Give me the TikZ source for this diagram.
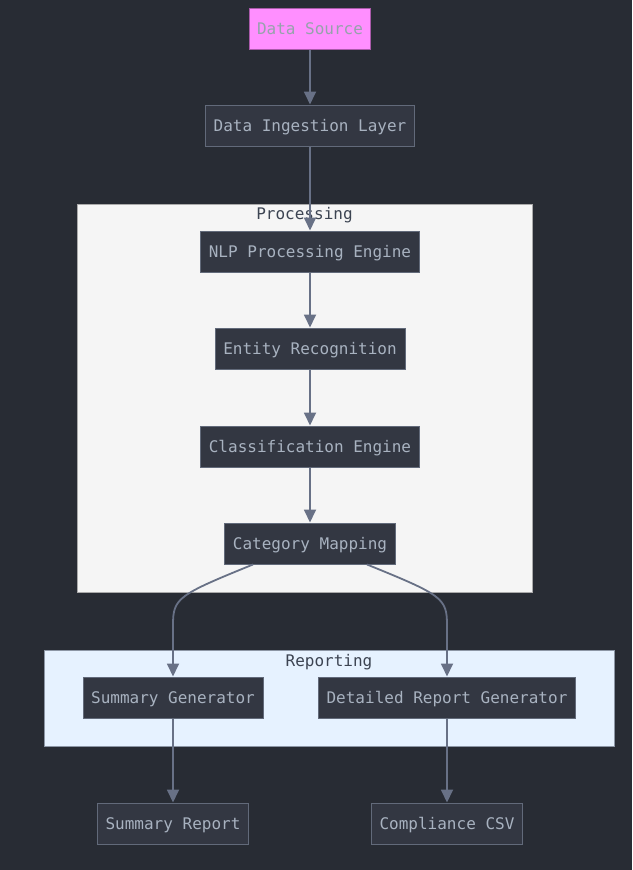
\documentclass[tikz,border=0pt]{standalone}
\usepackage{fontspec}
\setmonofont{DejaVu Sans Mono}
\usetikzlibrary{arrows.meta}
\definecolor{bgc}{RGB}{40,44,52}
\definecolor{nodefill}{RGB}{51,55,66}
\definecolor{nodeline}{RGB}{98,106,122}
\definecolor{edgec}{RGB}{104,113,134}
\definecolor{txt}{RGB}{168,178,192}
\definecolor{procfill}{RGB}{245,245,245}
\definecolor{procline}{RGB}{170,170,170}
\definecolor{repfill}{RGB}{230,242,255}
\definecolor{repline}{RGB}{140,150,165}
\definecolor{clabel}{RGB}{60,68,82}
\definecolor{srcfill}{RGB}{255,143,255}
\definecolor{srcline}{RGB}{170,90,170}
\definecolor{srctxt}{RGB}{150,162,172}
\tikzset{
  box/.style={draw=nodeline, fill=nodefill, line width=1pt, text=txt,
    font=\ttfamily\fontsize{16}{19}\selectfont, minimum height=41pt, inner xsep=8pt, inner ysep=0pt,
    text height=14.5pt, text depth=3pt},
  srcbox/.style={box, fill=srcfill, draw=srcline, text=srctxt},
  cluster/.style={line width=1pt},
  clab/.style={text=clabel, font=\ttfamily\fontsize{16}{19}\selectfont, text height=14.5pt, text depth=3pt},
  link/.style={draw=edgec, line width=1.8pt, -{Triangle[length=13pt,width=12pt]}}
}
\begin{document}
\begin{tikzpicture}[x=1pt,y=-1pt]
\useasboundingbox[fill=bgc] (0,0) rectangle (632,870);
% clusters
\draw[cluster, fill=procfill, draw=procline] (77,204) rectangle (532,592);
\node[clab] (proclab) at (304.5,214) {Processing};
\draw[cluster, fill=repfill, draw=repline] (44,650) rectangle (614,746);
\node[clab] (replab) at (329,661) {Reporting};
% nodes
\node[srcbox, minimum width=120pt] (ds) at (310,28.5) {Data Source};
\node[box, minimum width=208pt] (dil) at (310,125.5) {Data Ingestion Layer};
\node[box, minimum width=218pt] (nlp) at (310,251.5) {NLP Processing Engine};
\node[box, minimum width=190pt] (er) at (310,348.5) {Entity Recognition};
\node[box, minimum width=218pt] (ce) at (310,446.5) {Classification Engine};
\node[box, minimum width=170pt] (cm) at (310,543.5) {Category Mapping};
\node[box, minimum width=180pt] (sg) at (173,697.5) {Summary Generator};
\node[box, minimum width=256pt] (dg) at (447,697.5) {Detailed Report Generator};
\node[box, minimum width=151pt] (sr) at (173,823.5) {Summary Report};
\node[box, minimum width=151pt] (cc) at (447,823.5) {Compliance CSV};
% edges
\draw[link] (ds) -- (dil);
\draw[link] (dil) -- (nlp);
\draw[link] (nlp) -- (er);
\draw[link] (er) -- (ce);
\draw[link] (ce) -- (cm);
\draw[link] ([xshift=-57pt]cm.south) .. controls (178,595) and (173,598) .. (173,625) -- (sg.north);
\draw[link] ([xshift=57pt]cm.south) .. controls (442,595) and (447,598) .. (447,625) -- (dg.north);
\draw[link] (sg) -- (sr);
\draw[link] (dg) -- (cc);
\end{tikzpicture}
\end{document}
